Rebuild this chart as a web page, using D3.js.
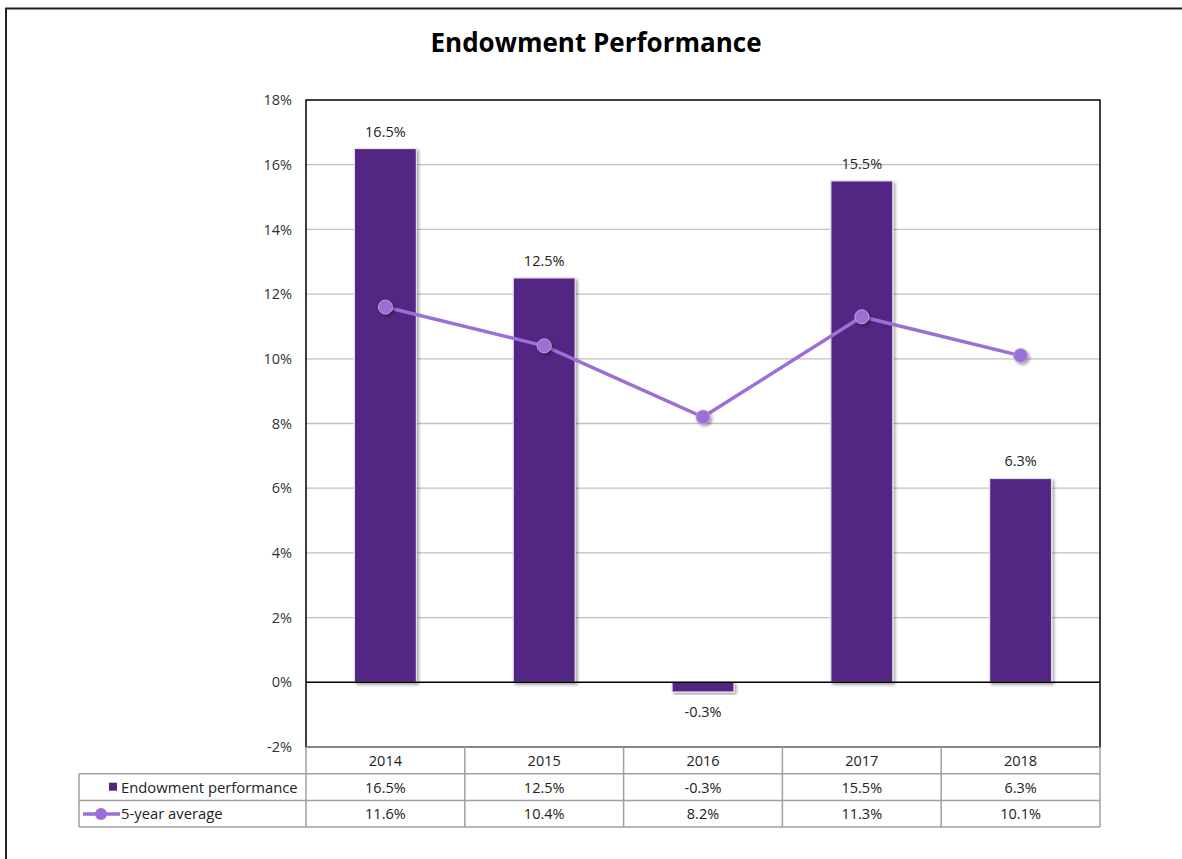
<!DOCTYPE html>
<html><head><meta charset="utf-8">
<script src="https://cdn.jsdelivr.net/npm/d3@7"></script>
<style>
html,body{margin:0;padding:0;background:#fff;}
svg{display:block;font-family:"Open Sans",sans-serif;}
</style></head>
<body>
<svg id="chart" width="1182" height="859"></svg>
<script>
const years = ["2014","2015","2016","2017","2018"];
const endowment = [16.5, 12.5, -0.3, 15.5, 6.3];
const fiveYearAvg = [11.6, 10.4, 8.2, 11.3, 10.1];
const yTicks = [-2,0,2,4,6,8,10,12,14,16,18];
const seriesNames = ["Endowment performance","5-year average"];
const title = "Endowment Performance";

(function(){
const svg = d3.select("#chart");
const pL = 306, pR = 1100, pT = 100, pB = 747;
const barColor = "#522583", lineColor = "#9b6fd6";

// outer frame
svg.append("path").attr("d","M6,859 V8.5 H1182").attr("fill","none").attr("stroke","#222").attr("stroke-width",2);

svg.append("text").attr("x",596).attr("y",52).attr("text-anchor","middle")
  .attr("font-size",26).attr("font-weight","bold").attr("fill","#000").text(title);

const x = d3.scaleBand().domain(years).range([pL,pR]).paddingInner(0.61).paddingOuter(0.305);
const xc = d3.scaleBand().domain(years).range([pL,pR]);
const y = d3.scaleLinear().domain([-2,18]).range([pB,pT]);

const defs = svg.append("defs");
const f = defs.append("filter").attr("id","sh").attr("x","-20%").attr("y","-20%").attr("width","150%").attr("height","150%");
f.append("feDropShadow").attr("dx",2).attr("dy",2).attr("stdDeviation",1.5).attr("flood-color","#000").attr("flood-opacity",0.35);

// gridlines
svg.append("g").selectAll("line").data(yTicks.filter(t=>t!==0 && t!==-2 && t!==18)).join("line")
  .attr("x1",pL).attr("x2",pR).attr("y1",d=>y(d)).attr("y2",d=>y(d))
  .attr("stroke","#c0c0c0").attr("stroke-width",1.3);

// y axis labels
const yAxis = d3.axisLeft(y).tickValues(yTicks).tickSize(0).tickPadding(14).tickFormat(d=>d+"%");
const ya = svg.append("g").attr("transform",`translate(${pL},0)`).call(yAxis);
ya.select(".domain").remove();
ya.selectAll("text").attr("font-size",14.5).attr("fill","#333").attr("font-family","Open Sans");

// bars
svg.append("g").selectAll("rect").data(years).join("rect")
  .attr("x",d=>x(d)).attr("width",x.bandwidth())
  .attr("y",(d,i)=>y(Math.max(0,endowment[i])))
  .attr("height",(d,i)=>Math.abs(y(endowment[i])-y(0)))
  .attr("fill",barColor).attr("stroke","#e8e0f0").attr("stroke-width",1.2)
  .attr("filter","url(#sh)");

// bar labels
svg.append("g").selectAll("text").data(years).join("text")
  .attr("x",d=>x(d)+x.bandwidth()/2)
  .attr("y",(d,i)=>endowment[i]>=0 ? y(endowment[i])-12 : y(endowment[i])+25)
  .attr("text-anchor","middle").attr("font-size",14.5).attr("fill","#222")
  .text((d,i)=>endowment[i].toFixed(1)+"%");

// zero line
svg.append("line").attr("x1",pL).attr("x2",pR).attr("y1",y(0)).attr("y2",y(0)).attr("stroke","#000").attr("stroke-width",1.5);

// plot border
svg.append("rect").attr("x",pL).attr("y",pT).attr("width",pR-pL).attr("height",pB-pT)
  .attr("fill","none").attr("stroke","#000").attr("stroke-width",1.5);

// line
const line = d3.line().x((d,i)=>xc(years[i])+xc.bandwidth()/2).y(d=>y(d));
svg.append("path").datum(fiveYearAvg).attr("d",line).attr("fill","none").attr("stroke",lineColor).attr("stroke-width",3.5);
svg.append("g").selectAll("circle").data(fiveYearAvg).join("circle")
  .attr("cx",(d,i)=>xc(years[i])+xc.bandwidth()/2).attr("cy",d=>y(d)).attr("r",7)
  .attr("fill",lineColor).attr("stroke","#b9a0e0").attr("stroke-width",1).attr("filter","url(#sh)");

// data table
const rowH = 26.7;
const tg = svg.append("g");
const tableLeft = 79;
const gray = "#a0a0a0";
[pB, pB+rowH, pB+2*rowH, pB+3*rowH].forEach((yy,k)=>{
  tg.append("line").attr("x1",k===0?pL:tableLeft).attr("x2",pR).attr("y1",yy).attr("y2",yy)
    .attr("stroke",gray).attr("stroke-width",1.5);
});
tg.append("line").attr("x1",tableLeft).attr("x2",tableLeft).attr("y1",pB+rowH).attr("y2",pB+3*rowH).attr("stroke",gray).attr("stroke-width",1.5);
years.forEach(yr=>{
  tg.append("line").attr("x1",xc(yr)).attr("x2",xc(yr)).attr("y1",pB).attr("y2",pB+3*rowH).attr("stroke",gray).attr("stroke-width",1.5);
});
tg.append("line").attr("x1",pR).attr("x2",pR).attr("y1",pB).attr("y2",pB+3*rowH).attr("stroke",gray).attr("stroke-width",1.5);

const cellText = (txt,cx,cy)=>tg.append("text").attr("x",cx).attr("y",cy).attr("text-anchor","middle")
  .attr("font-size",14.5).attr("fill","#222").text(txt);
years.forEach((yr,i)=>{
  const cx = xc(yr)+xc.bandwidth()/2;
  cellText(yr,cx,pB+19);
  cellText(endowment[i].toFixed(1)+"%",cx,pB+rowH+19);
  cellText(fiveYearAvg[i].toFixed(1)+"%",cx,pB+2*rowH+19);
});
tg.append("rect").attr("x",109).attr("y",pB+rowH+9).attr("width",8).attr("height",8).attr("fill",barColor);
tg.append("text").attr("x",121).attr("y",pB+rowH+19).attr("font-size",14.8).attr("fill","#222").text(seriesNames[0]);
tg.append("line").attr("x1",83).attr("x2",120).attr("y1",pB+2*rowH+13.5).attr("y2",pB+2*rowH+13.5).attr("stroke",lineColor).attr("stroke-width",3.5);
tg.append("circle").attr("cx",101).attr("cy",pB+2*rowH+13.5).attr("r",6).attr("fill",lineColor);
tg.append("text").attr("x",121).attr("y",pB+2*rowH+19).attr("font-size",14.8).attr("fill","#222").text(seriesNames[1]);
})();
</script>
</body></html>
